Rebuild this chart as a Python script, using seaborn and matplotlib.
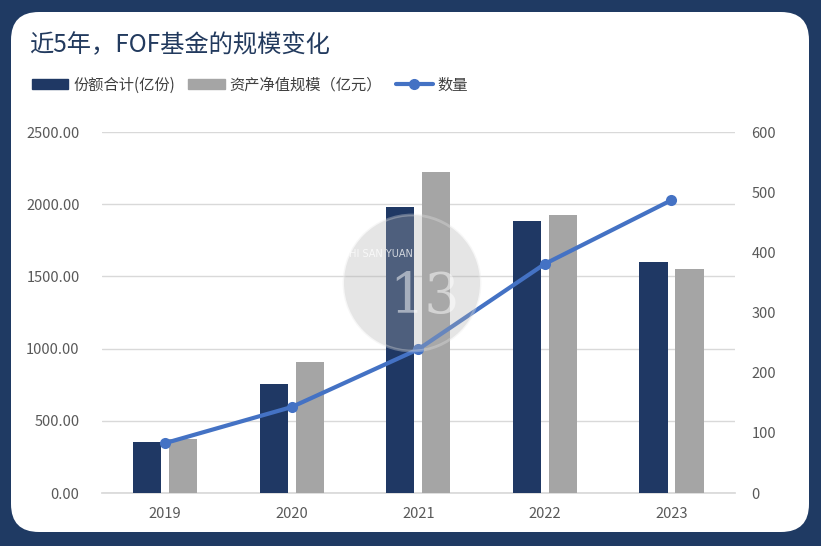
import matplotlib.pyplot as plt
import pandas as pd
import seaborn as sns
import numpy as np
from matplotlib.patches import FancyBboxPatch, Circle

# data
years = ['2019', '2020', '2021', '2022', '2023']
shares = [355, 755, 1981, 1884, 1600]        # 份额合计(亿份)
net_assets = [374, 907, 2223, 1925, 1551]    # 资产净值规模（亿元）
counts = [83, 143, 239, 381, 487]            # 数量
series_names = ['份额合计(亿份)', '资产净值规模（亿元）', '数量']

navy = '#1f3864'
gray = '#a5a5a5'
blue = '#4472c4'
tick_col = '#595959'

sns.set_theme(style='white')
plt.rcParams['font.family'] = ['Noto Sans CJK SC', 'DejaVu Sans']

df = pd.DataFrame({'year': years * 2,
                   'value': shares + net_assets,
                   'series': [series_names[0]] * 5 + [series_names[1]] * 5})

fig = plt.figure(figsize=(8.21, 5.46), dpi=100)
fig.patch.set_facecolor('#1f3a63')

# white rounded card
card = FancyBboxPatch((0.11, 0.14), 7.98, 5.20,
                      boxstyle='round,pad=0,rounding_size=0.28',
                      transform=fig.dpi_scale_trans, facecolor='white',
                      edgecolor='none', zorder=-10)
fig.patches.append(card)

ax = fig.add_axes([0.124, 0.097, 0.771, 0.661])
ax.set_facecolor('none')
sns.barplot(data=df, x='year', y='value', hue='series', palette=[navy, gray],
            width=0.57, gap=0.22, saturation=1, linewidth=0,
            ax=ax, legend=False, zorder=3)
ax.set_ylim(0, 2500)
ax.set_yticks(np.arange(0, 2501, 500))
ax.set_yticklabels([f'{v:.2f}' for v in np.arange(0, 2501, 500)])
ax.set_xlabel('')
ax.set_ylabel('')
ax.grid(axis='y', color='#d9d9d9', linewidth=1, zorder=0)
ax.set_axisbelow(True)
for s in ['top', 'right', 'left']:
    ax.spines[s].set_visible(False)
ax.spines['bottom'].set_color('#d9d9d9')
ax.tick_params(axis='both', length=0, labelsize=10.5, labelcolor=tick_col)
ax.tick_params(axis='y', pad=16)
ax.tick_params(axis='x', pad=10)

ax2 = ax.twinx()
sns.lineplot(x=np.arange(len(years)), y=counts, ax=ax2, color=blue,
             linewidth=3, marker='o', markersize=8, markeredgewidth=0, zorder=4)
ax2.set_ylim(0, 600)
ax2.set_yticks(np.arange(0, 601, 100))
for s in ['top', 'right', 'left', 'bottom']:
    ax2.spines[s].set_visible(False)
ax2.tick_params(axis='y', length=0, labelsize=10.5, labelcolor=tick_col, pad=12)
ax2.grid(False)
ax.set_xlim(-0.5, 4.5)

# watermark
wm = Circle((4.12, 2.63), 0.68, transform=fig.dpi_scale_trans,
            facecolor='#b0b0b0', edgecolor='#e6e6e6', linewidth=2,
            alpha=0.33, zorder=5)
fig.patches.append(wm)
fig.text(3.78 / 8.21, 1 - 254 / 546, 'SHI SAN YUAN', color='white', alpha=0.75,
         fontsize=7, ha='center', va='center', family='DejaVu Sans', zorder=6)
fig.text(4.25 / 8.21, 1 - 298 / 546, '13', color='white', alpha=0.5,
         fontsize=40, ha='center', va='center', family='DejaVu Serif', zorder=6)

# title
fig.text(29 / 821, 1 - 45 / 546, '近5年，FOF基金的规模变化', fontsize=17.5,
         color='#223a5e', ha='left', va='center')

# legend
handles = [plt.Rectangle((0, 0), 1, 1, color=navy),
           plt.Rectangle((0, 0), 1, 1, color=gray),
           plt.Line2D([], [], color=blue, linewidth=3, marker='o',
                      markersize=7)]
leg = fig.legend(handles, series_names, loc='center left',
                 bbox_to_anchor=(18 / 821, 1 - 85 / 546), ncol=3,
                 frameon=False, fontsize=11, handlelength=2.4,
                 handleheight=0.6, handletextpad=0.3, columnspacing=0.9)
for t in leg.get_texts():
    t.set_color('#404040')

fig.savefig('out.png', dpi=100)
